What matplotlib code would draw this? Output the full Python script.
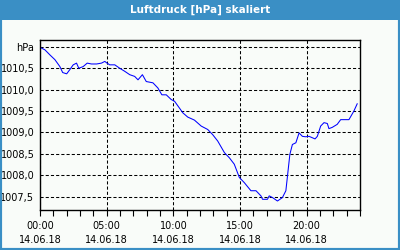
import matplotlib
matplotlib.use("Agg")
import matplotlib.pyplot as plt
from matplotlib.patches import Rectangle
from matplotlib.ticker import MultipleLocator

title = "Luftdruck [hPa] skaliert"
hours = [0.00, 0.37, 0.75, 1.12, 1.49, 1.70, 2.00, 2.24, 2.49, 2.74, 2.91, 3.24, 3.54, 3.86,
         4.24, 4.61, 4.86, 5.03, 5.23, 5.61, 5.98, 6.35, 6.73, 7.10, 7.35, 7.68, 7.97, 8.47,
         8.84, 9.14, 9.47, 9.84, 10.09, 10.46, 10.71, 11.08, 11.58, 12.09, 12.58, 12.95,
         13.33, 13.83, 14.20, 14.57, 14.95, 15.32, 15.82, 16.20, 16.57, 16.69, 17.06, 17.19,
         17.44, 17.81, 18.18, 18.44, 18.56, 18.74, 18.93, 19.19, 19.43, 19.68, 19.93, 20.18,
         20.63, 20.80, 21.05, 21.30, 21.55, 21.67, 21.92, 22.29, 22.55, 23.17, 23.54, 23.79]
pressure = [1010.99, 1010.93, 1010.81, 1010.70, 1010.54, 1010.40, 1010.37, 1010.47, 1010.58,
            1010.62, 1010.50, 1010.54, 1010.62, 1010.60, 1010.60, 1010.62, 1010.66, 1010.62,
            1010.58, 1010.58, 1010.50, 1010.43, 1010.35, 1010.31, 1010.23, 1010.35, 1010.19,
            1010.16, 1010.04, 1009.88, 1009.88, 1009.77, 1009.73, 1009.57, 1009.46, 1009.36,
            1009.29, 1009.15, 1009.07, 1008.95, 1008.80, 1008.53, 1008.41, 1008.26, 1007.95,
            1007.83, 1007.64, 1007.64, 1007.52, 1007.44, 1007.44, 1007.52, 1007.48, 1007.40,
            1007.48, 1007.64, 1007.98, 1008.49, 1008.72, 1008.76, 1008.99, 1008.91, 1008.90,
            1008.91, 1008.85, 1008.91, 1009.15, 1009.23, 1009.21, 1009.09, 1009.12, 1009.19,
            1009.30, 1009.30, 1009.50, 1009.67]
y_ticks = [1007.5, 1008.0, 1008.5, 1009.0, 1009.5, 1010.0, 1010.5, 1011.0]
y_labels = ["1007,5", "1008,0", "1008,5", "1009,0", "1009,5", "1010,0", "1010,5", "hPa"]
x_ticks = [0, 5, 10, 15, 20]
x_labels = ["00:00\n14.06.18", "05:00\n14.06.18", "10:00\n14.06.18", "15:00\n14.06.18", "20:00\n14.06.18"]

fig = plt.figure(figsize=(4, 2.5), dpi=100)
fig.patch.set_facecolor("#f9fcf9")
# outer border and title bar
fig.patches.append(Rectangle((0, 0), 1, 1, transform=fig.transFigure, fill=False,
                             edgecolor="#3a8fc5", linewidth=3, zorder=0))
fig.patches.append(Rectangle((0, 1 - 20 / 250), 1, 20 / 250, transform=fig.transFigure,
                             facecolor="#3a8fc5", edgecolor="none", zorder=1))
fig.text(0.5, 1 - 10 / 250, title, ha="center", va="center", color="white",
         fontsize=7.5, fontweight="bold", family="DejaVu Sans")

ax = fig.add_axes([0.1, 0.16, 0.8, 0.68])
ax.set_facecolor("#f9fcf9")
ax.plot(hours, pressure, color="#0000ff", linewidth=0.75)
ax.set_xlim(0, 24)
ax.set_ylim(1007.19, 1011.16)

ax.set_yticks(y_ticks)
ax.set_yticklabels(y_labels)
ax.set_xticks(x_ticks)
ax.set_xticklabels(x_labels, linespacing=1.45)
ax.xaxis.set_minor_locator(MultipleLocator(1))
ax.tick_params(axis="y", length=0, pad=4, labelsize=7)
ax.tick_params(axis="x", which="both", length=4, width=0.8, direction="out", pad=4, labelsize=7)

ax.grid(True, which="major", color="black", linestyle=(0, (3, 2)), linewidth=0.75)
for s in ax.spines.values():
    s.set_color("black")
    s.set_linewidth(1)

fig.savefig("out.png", dpi=100, facecolor=fig.get_facecolor())
